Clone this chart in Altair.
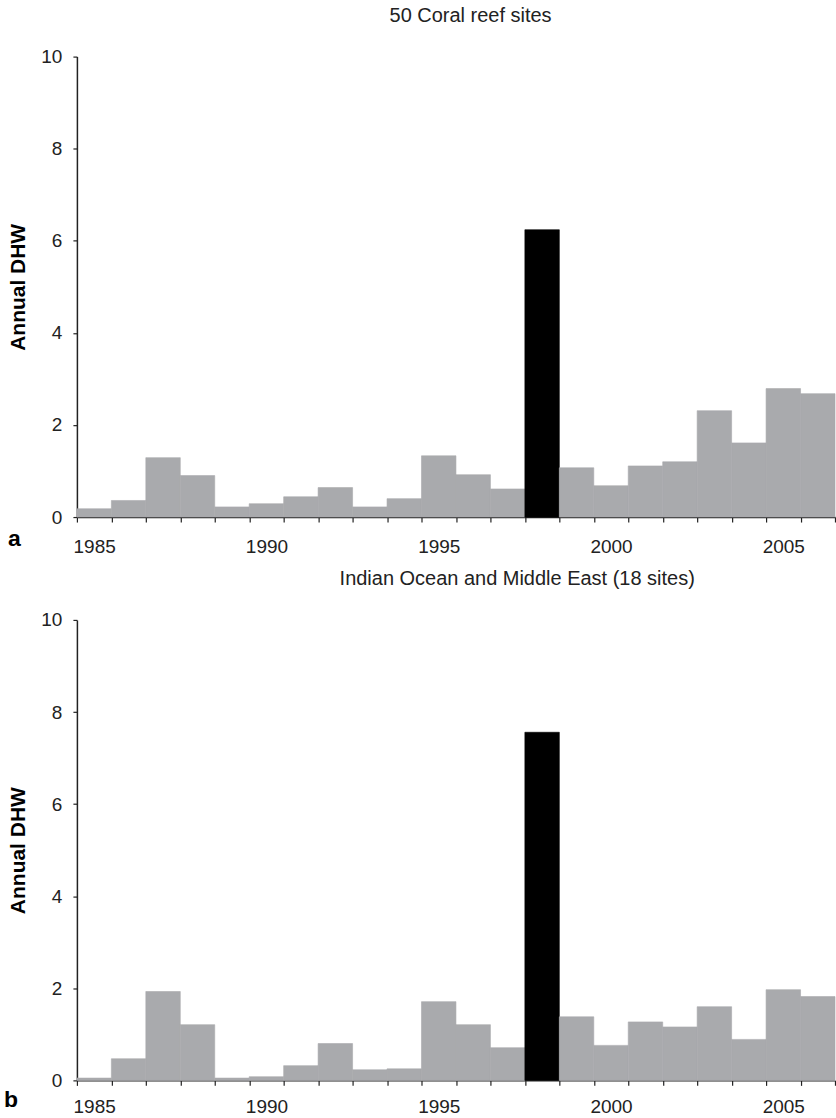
import altair as alt
import pandas as pd

# ---- data ----
years = [1985, 1986, 1987, 1988, 1989, 1990, 1991, 1992, 1993, 1994, 1995,
         1996, 1997, 1998, 1999, 2000, 2001, 2002, 2003, 2004, 2005, 2006]
dhw_all_sites = [0.18, 0.36, 1.29, 0.90, 0.22, 0.29, 0.44, 0.64, 0.22, 0.40, 1.33,
                 0.92, 0.61, 6.24, 1.07, 0.68, 1.11, 1.20, 2.31, 1.61, 2.79, 2.68]
dhw_indian_ocean = [0.05, 0.47, 1.93, 1.21, 0.05, 0.08, 0.32, 0.80, 0.23, 0.25, 1.71,
                    1.21, 0.71, 7.56, 1.38, 0.76, 1.27, 1.16, 1.60, 0.89, 1.97, 1.82]
highlight_year = 1998
y_ticks = [0, 2, 4, 6, 8, 10]
titles = ["50 Coral reef sites", "Indian Ocean and Middle East (18 sites)"]
letters = ["a", "b"]

FONT = "Liberation Sans"
GRAY = "#a9aaad"
TEXT = "#222222"
W, H = 759, 461


def panel(values, title, title_dx, letter, letter_x, letter_y, label_pad):
    df = pd.DataFrame({"year": years, "dhw": values})
    bar_color = alt.condition(
        alt.datum.year == highlight_year, alt.value("#000000"), alt.value(GRAY)
    )
    bars = (
        alt.Chart(df)
        .mark_bar(strokeWidth=0.6)
        .encode(
            x=alt.X(
                "year:O",
                scale=alt.Scale(paddingInner=0, paddingOuter=0),
                axis=alt.Axis(
                    title=None,
                    labelAngle=0,
                    labelExpr="datum.value % 5 == 0 ? datum.label : ''",
                    tickBand="extent", tickSize=5, labelPadding=label_pad,
                    labelFontSize=19, labelFont=FONT, labelColor=TEXT,
                ),
            ),
            y=alt.Y(
                "dhw:Q",
                scale=alt.Scale(domain=[0, 10], nice=False),
                axis=alt.Axis(
                    values=y_ticks, title="Annual DHW", grid=False,
                    titleX=-58, titleY=H / 2, titleAngle=-90,
                    titleAlign="center", titleBaseline="middle",
                    titleFontSize=21, titleFontWeight="bold", titleColor="#000",
                    titleFont=FONT,
                    tickSize=4, labelPadding=11,
                    labelFontSize=19, labelFont=FONT, labelColor=TEXT,
                ),
            ),
            color=bar_color,
            stroke=bar_color,
        )
    )
    letter_mark = (
        alt.Chart(pd.DataFrame({"t": [letter]}))
        .mark_text(font=FONT, fontSize=23, fontWeight="bold", align="left",
                   baseline="alphabetic", color="#000000")
        .encode(text="t:N", x=alt.value(letter_x), y=alt.value(H + letter_y))
    )
    return alt.layer(bars, letter_mark).properties(
        width=W, height=H,
        title=alt.TitleParams(
            title, anchor="start", frame="group", dx=title_dx, offset=22,
            fontSize=20, font=FONT, fontWeight="normal", color=TEXT,
        ),
    )


top = panel(dhw_all_sites, titles[0], 313, letters[0], -69, 29, 15)
bottom = panel(dhw_indian_ocean, titles[1], 263, letters[1], -73, 27, 12)

chart = (
    alt.vconcat(top, bottom, spacing=13)
    .properties(padding={"left": 4, "top": 5, "right": 0, "bottom": 0})
    .configure_view(stroke=None)
    .configure_axis(
        domainColor="#222222", domainWidth=1.5, tickColor="#222222", tickWidth=1.2
    )
)

chart.save("out.html", embed_options={"renderer": "svg", "actions": False})
